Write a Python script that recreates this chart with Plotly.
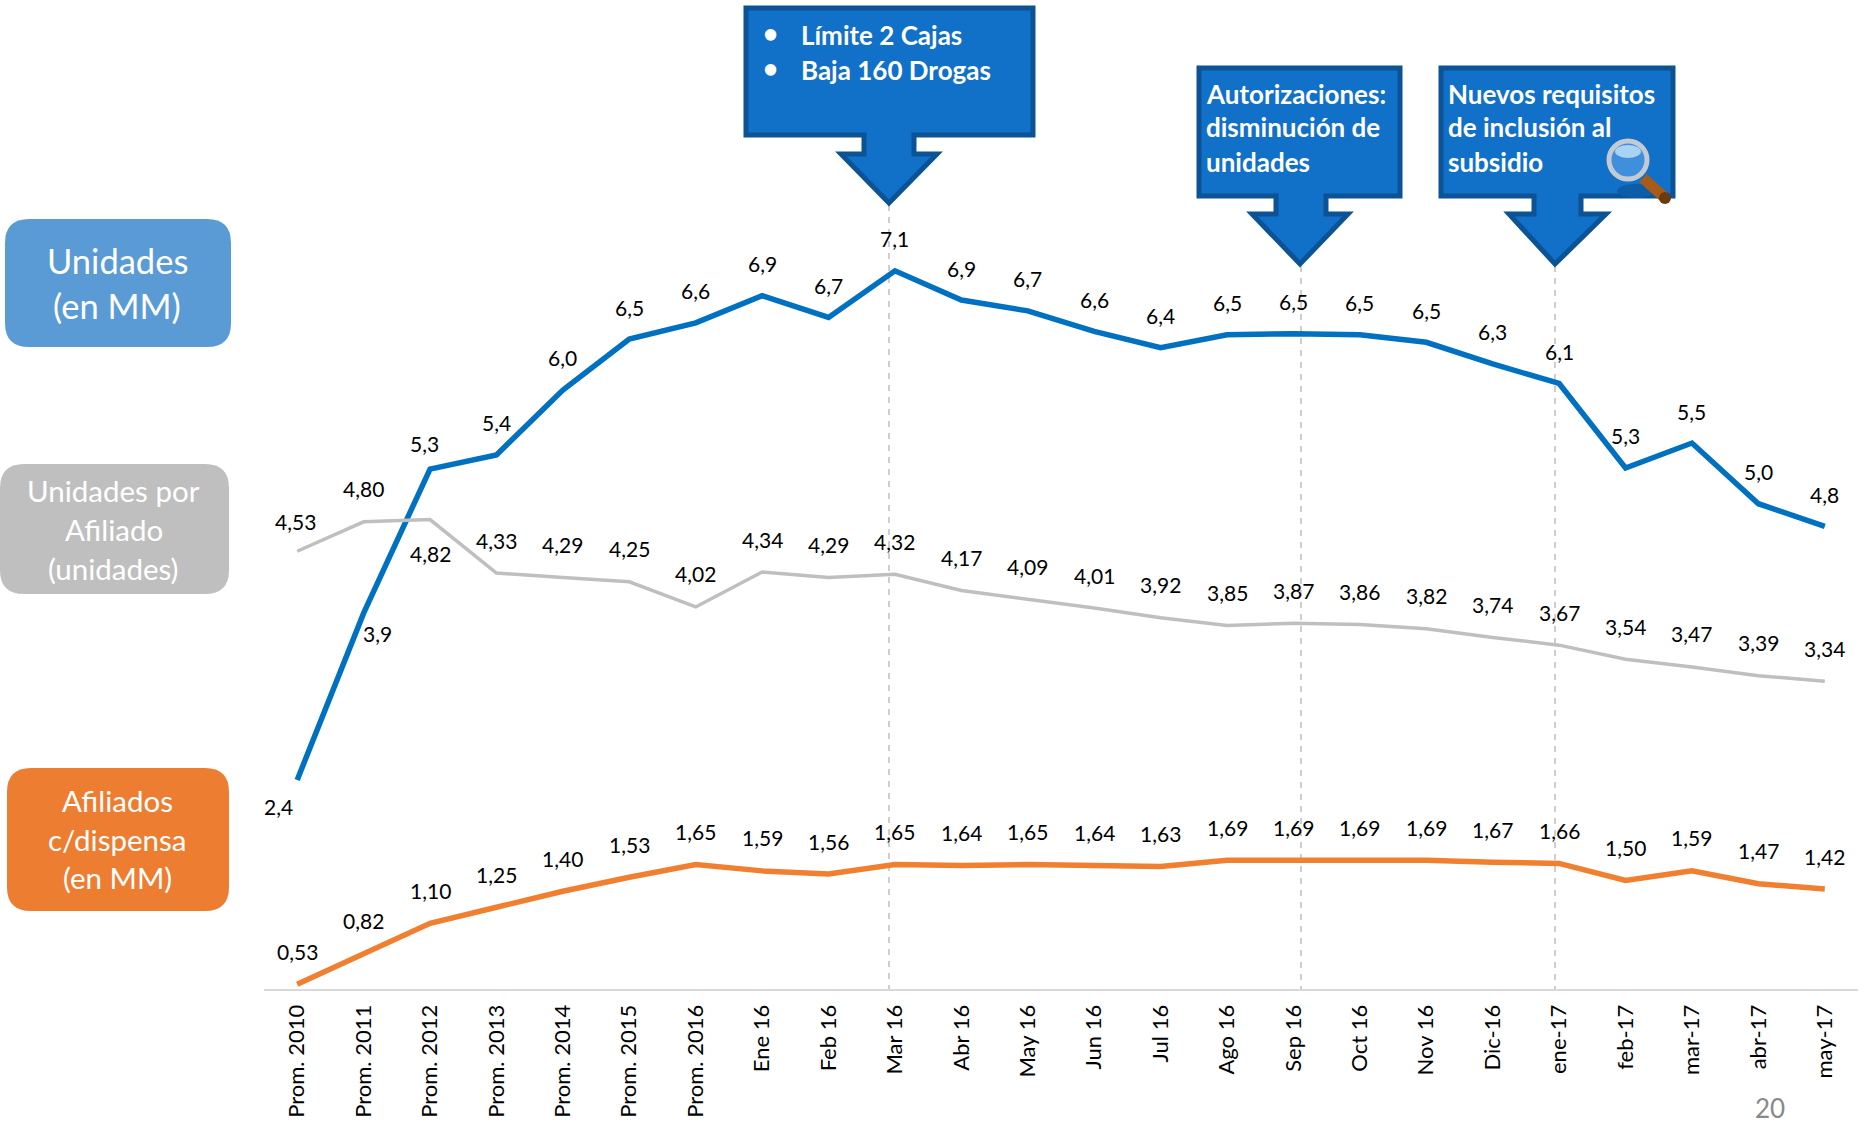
import plotly.graph_objects as go

W, H = 1864, 1123

categories = ["Prom. 2010", "Prom. 2011", "Prom. 2012", "Prom. 2013", "Prom. 2014", "Prom. 2015", "Prom. 2016",
              "Ene 16", "Feb 16", "Mar 16", "Abr 16", "May 16", "Jun 16", "Jul 16", "Ago 16", "Sep 16", "Oct 16",
              "Nov 16", "Dic-16", "ene-17", "feb-17", "mar-17", "abr-17", "may-17"]
unidades = [2.40, 3.94, 5.27, 5.40, 6.00, 6.47, 6.62, 6.87, 6.67, 7.10, 6.83, 6.73, 6.54, 6.39, 6.51, 6.52, 6.51,
            6.44, 6.24, 6.06, 5.28, 5.51, 4.95, 4.74]
unidades_labels = ["2,4", "3,9", "5,3", "5,4", "6,0", "6,5", "6,6", "6,9", "6,7", "7,1", "6,9", "6,7", "6,6", "6,4",
                   "6,5", "6,5", "6,5", "6,5", "6,3", "6,1", "5,3", "5,5", "5,0", "4,8"]
por_afiliado = [4.53, 4.80, 4.82, 4.33, 4.29, 4.25, 4.02, 4.34, 4.29, 4.32, 4.17, 4.09, 4.01, 3.92, 3.85, 3.87, 3.86,
                3.82, 3.74, 3.67, 3.54, 3.47, 3.39, 3.34]
afiliados = [0.53, 0.82, 1.10, 1.25, 1.40, 1.53, 1.65, 1.59, 1.56, 1.65, 1.64, 1.65, 1.64, 1.63, 1.69, 1.69, 1.69,
             1.69, 1.67, 1.66, 1.50, 1.59, 1.47, 1.42]

LABEL_FONT = dict(family="Lato", size=21, color="#000000")


def px(x):
    return x / W


def py(y):
    return 1 - y / H


def poly(points):
    return "M " + " L ".join(f"{px(x):.5f},{py(y):.5f}" for x, y in points) + " Z"


def rounded(x0, y0, x1, y1, r):
    a, b, c, d = px(x0), py(y0), px(x1), py(y1)
    rx, ry = r / W, r / H
    return (f"M {a + rx},{b} L {c - rx},{b} Q {c},{b} {c},{b - ry} L {c},{d + ry} Q {c},{d} {c - rx},{d} "
            f"L {a + rx},{d} Q {a},{d} {a},{d + ry} L {a},{b - ry} Q {a},{b} {a + rx},{b} Z")


fig = go.Figure()
for name, vals, col, lw, axis in [("Unidades", unidades, "#0070C0", 5.5, "y"),
                                  ("Unidades por Afiliado", por_afiliado, "#BFBFBF", 3.5, "y2"),
                                  ("Afiliados", afiliados, "#F08030", 5.5, "y3")]:
    fig.add_trace(go.Scatter(x=categories, y=vals, name=name, mode="lines", yaxis=axis, cliponaxis=False,
                             line=dict(color=col, width=lw, shape="linear"), showlegend=False))

annotations = []


def add_labels(labels, vals, yref, overrides, default):
    for i, (t, v) in enumerate(zip(labels, vals)):
        dx, dy = overrides.get(i, (0, default))
        annotations.append(dict(x=categories[i], y=v, xref="x", yref=yref, text=t, showarrow=False, font=LABEL_FONT,
                                xshift=dx, yshift=dy, xanchor="center", yanchor="middle"))


add_labels(unidades_labels, unidades, "y", {0: (-19, -27), 1: (14, -20), 2: (-6, 26)}, 32)
add_labels([f"{v:.2f}".replace(".", ",") for v in por_afiliado], por_afiliado, "y2", {0: (-2, 30), 2: (0, -34)}, 33)
add_labels([f"{v:.2f}".replace(".", ",") for v in afiliados], afiliados, "y3", {}, 33)

shapes = []
# guide lines
for x, y0 in [(889, 205), (1301, 266), (1555, 266)]:
    shapes.append(dict(type="line", xref="paper", yref="paper", x0=px(x), x1=px(x), y0=py(y0), y1=py(989),
                       line=dict(color="#BFBFBF", width=1.5, dash="6px,6px"), layer="below"))

# callouts
FILL, EDGE = "#1170C8", "#0B5394"
for (bx0, by0, bx1, by1, sx0, sx1, sy, hx0, hx1, tx, ty) in [
    (746, 8, 1033, 135, 864, 914, 154, 841, 937, 889, 203),
    (1199, 68, 1400, 196, 1276, 1326, 214, 1252, 1348, 1300, 264),
    (1441, 68, 1673, 196, 1534, 1581, 214, 1509, 1606, 1555, 264),
]:
    shapes.append(dict(type="path", xref="paper", yref="paper", fillcolor=FILL, line=dict(color=EDGE, width=5),
                       path=poly([(bx0, by0), (bx1, by0), (bx1, by1), (sx1, by1), (sx1, sy), (hx1, sy), (tx, ty),
                                  (hx0, sy), (sx0, sy), (sx0, by1), (bx0, by1)])))

# magnifier
shapes.append(dict(type="circle", xref="paper", yref="paper", x0=px(1617), y0=py(184), x1=px(1655), y1=py(198),
                   fillcolor="#0C5CA8", line=dict(width=0)))
shapes.append(dict(type="line", xref="paper", yref="paper", x0=px(1643), y0=py(178), x1=px(1665), y1=py(198),
                   line=dict(color="#A85A18", width=11)))
shapes.append(dict(type="circle", xref="paper", yref="paper", x0=px(1659), y0=py(192), x1=px(1671), y1=py(204),
                   fillcolor="#6B3A10", line=dict(width=0)))
shapes.append(dict(type="circle", xref="paper", yref="paper", x0=px(1609), y0=py(141), x1=px(1647), y1=py(179),
                   fillcolor="#3F8FDC", line=dict(color="#C4CAD2", width=5)))
shapes.append(dict(type="circle", xref="paper", yref="paper", x0=px(1615), y0=py(145), x1=px(1641), y1=py(158),
                   fillcolor="#A9D2F3", line=dict(width=0)))

# side boxes
for (x0, y0, x1, y1, col, lines, size, ys) in [
    (5, 219, 231, 347, "#5B9BD5", ["Unidades", "(en MM)"], 34.5, [260, 305]),
    (0, 464, 229, 594, "#BFBFBF", ["Unidades por", "Afiliado", "(unidades)"], 29.5, [490, 529, 568]),
    (7, 768, 229, 911, "#ED7D31", ["Afiliados", "c/dispensa", "(en MM)"], 29.5, [800, 839, 877]),
]:
    shapes.append(dict(type="path", xref="paper", yref="paper", fillcolor=col, line=dict(width=0),
                       path=rounded(x0, y0, x1, y1, 24)))
    for t, y in zip(lines, ys):
        annotations.append(dict(x=px((x0 + x1) / 2 - 1), y=py(y), xref="paper", yref="paper", text=t, showarrow=False,
                                font=dict(family="Lato", size=size, color="#FFFFFF"), xanchor="center", yanchor="middle"))

# callout text
for t, x, y in [("Límite 2 Cajas", 799, 35), ("Baja 160 Drogas", 799, 70),
                ("Autorizaciones:", 1204, 94), ("disminución de", 1204, 127), ("unidades", 1204, 162),
                ("Nuevos requisitos", 1446, 94), ("de inclusión al", 1446, 127), ("subsidio", 1446, 162)]:
    annotations.append(dict(x=px(x), y=py(y), xref="paper", yref="paper", text=f"<b>{t}</b>", showarrow=False,
                            font=dict(family="Lato", size=26, color="#FFFFFF"), xanchor="left", yanchor="middle"))
for y in (35, 70):
    annotations.append(dict(x=px(770), y=py(y - 2), xref="paper", yref="paper", text="<b>•</b>", showarrow=False,
                            font=dict(family="Lato", size=26, color="#FFFFFF"), xanchor="center", yanchor="middle"))

annotations.append(dict(x=px(1770), y=py(1108), xref="paper", yref="paper", text="20", showarrow=False,
                        font=dict(family="Lato", size=26, color="#898989"), xanchor="center", yanchor="middle"))

base = dict(domain=[1 - 989 / H, 1], showgrid=False, zeroline=False, showticklabels=False, showline=False, ticks="")
fig.update_layout(
    width=W, height=H, margin=dict(l=0, r=0, t=0, b=0), paper_bgcolor="#FFFFFF", plot_bgcolor="#FFFFFF",
    showlegend=False, shapes=shapes, annotations=annotations,
    xaxis=dict(domain=[264 / W, 1858 / W], type="category", categoryorder="array", categoryarray=categories,
               range=[-0.5, 23.5], showgrid=False, zeroline=False, showline=True, linecolor="#D9D9D9", linewidth=2,
               ticks="outside", ticklen=5, tickcolor="rgba(0,0,0,0)", tickangle=-90, tickmode="array",
               tickvals=categories, ticktext=categories, tickfont=dict(family="Lato", size=22, color="#000000"),
               anchor="y"),
    yaxis=dict(range=[0.47, 9.60], **base),
    yaxis2=dict(range=[0.52, 9.58], overlaying="y", **base),
    yaxis3=dict(range=[0.486, 9.73], overlaying="y", **base),
)

fig.write_html("out.html", config={"displayModeBar": False},
               post_script="document.body.style.margin='0';document.body.style.overflow='hidden';")
